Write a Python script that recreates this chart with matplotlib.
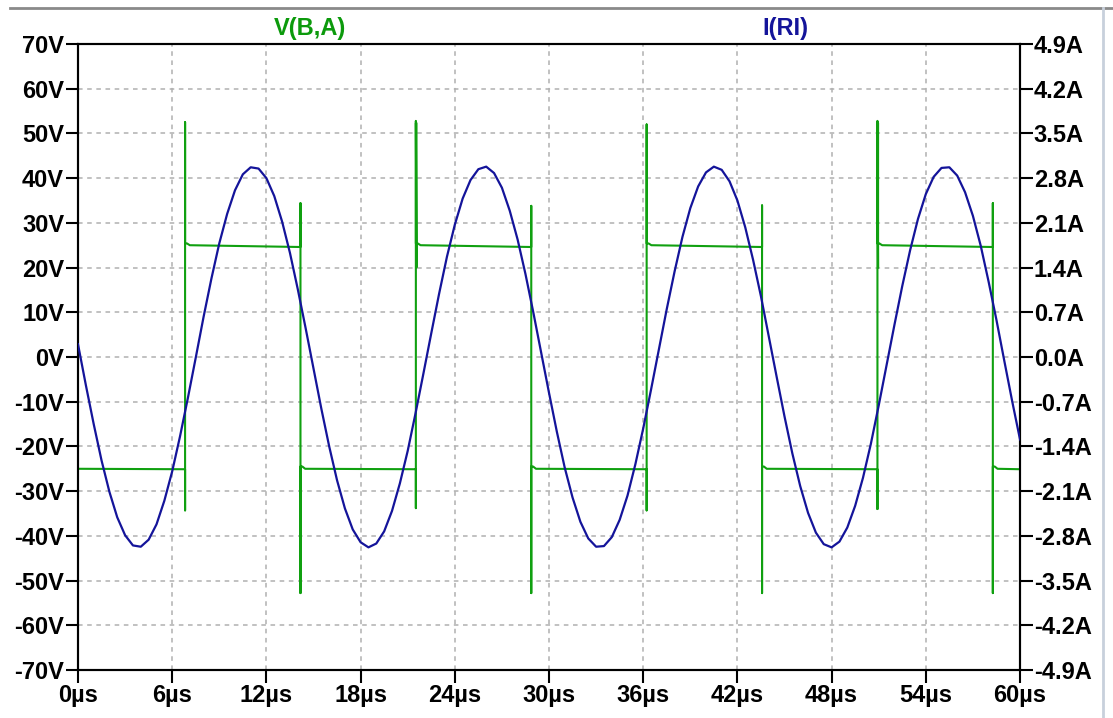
import matplotlib
matplotlib.use("Agg")
import matplotlib.pyplot as plt
from matplotlib.lines import Line2D
import numpy as np

cur_t = np.arange(0, 60.01, 0.5)
cur_a = [0.20, -0.44, -1.05, -1.62, -2.11, -2.51, -2.79, -2.95, -2.97, -2.86, -2.62, -2.25,
         -1.79, -1.24, -0.64, -0.01, 0.63, 1.23, 1.78, 2.24, 2.61, 2.86, 2.97, 2.95,
         2.80, 2.52, 2.12, 1.63, 1.06, 0.45, -0.18, -0.81, -1.40, -1.93, -2.37, -2.70,
         -2.90, -2.98, -2.92, -2.73, -2.41, -1.98, -1.47, -0.88, -0.26, 0.37, 0.99, 1.57,
         2.07, 2.48, 2.77, 2.94, 2.98, 2.88, 2.65, 2.29, 1.84, 1.30, 0.70, 0.07,
         -0.56, -1.17, -1.73, -2.20, -2.58, -2.84, -2.97, -2.96, -2.82, -2.55, -2.17, -1.68,
         -1.12, -0.51, 0.12, 0.75, 1.34, 1.88, 2.33, 2.67, 2.89, 2.98, 2.93, 2.75,
         2.45, 2.03, 1.52, 0.95, 0.32, -0.31, -0.93, -1.51, -2.02, -2.44, -2.75, -2.93,
         -2.98, -2.89, -2.67, -2.33, -1.89, -1.36, -0.76, -0.13, 0.50, 1.11, 1.67, 2.16,
         2.55, 2.82, 2.96, 2.97, 2.84, 2.58, 2.21, 1.74, 1.18, 0.58, -0.06, -0.69, -1.29]

# V(B,A) square wave: switching instants (us) and spike extremes (V)
edge_t = [6.82, 14.17, 21.52, 28.87, 36.22, 43.57, 50.92, 58.27]
edge_up = [True, False, True, False, True, False, True, False]
spike_hi = [52.5, 34.4, 52.8, 33.8, 52.0, 33.9, 52.8, 34.4]
spike_lo = [-34.3, -52.8, -33.8, -52.8, -34.3, -52.8, -34.0, -52.8]
ring_lo = [None, None, 20.0, None, None, None, 20.0, None]
hi_level = [25.4, 24.6]   # start / end of the +25 V plateau
lo_level = [-24.5, -25.1]  # start / end of the -25 V plateau

v_ticks = list(range(-70, 71, 10))
a_ticks = [-4.9, -4.2, -3.5, -2.8, -2.1, -1.4, -0.7, 0.0, 0.7, 1.4, 2.1, 2.8, 3.5, 4.2, 4.9]
t_ticks = list(range(0, 61, 6))

green = '#10a010'
blue = '#14149a'
font = dict(family=['Liberation Sans', 'DejaVu Sans'], weight='bold', size=17)

# build the step path of V(B,A)
gx, gy = [0.0], [-25.0]
for i, te in enumerate(edge_t):
    gx.append(te)
    gy.append(lo_level[1] if edge_up[i] else hi_level[1])
    gx += [te, te]
    gy += [spike_lo[i], spike_hi[i]] if edge_up[i] else [spike_hi[i], spike_lo[i]]
    if ring_lo[i] is not None:
        gx += [te + 0.04, te + 0.04, te]
        gy += [ring_lo[i], spike_hi[i] - 0.5, spike_hi[i] - 0.5]
    start = hi_level[0] if edge_up[i] else lo_level[0]
    settle = 25.0 if edge_up[i] else -25.0
    gx += [te, te + 0.12, te + 0.3]
    gy += [start, start, settle]
gx.append(60.0)
gy.append(hi_level[1] if edge_up[-1] else lo_level[1])

fig = plt.figure(figsize=(11.13, 7.18), dpi=100)
ax = fig.add_axes([78 / 1113, 1 - 670 / 718, 942 / 1113, 626 / 718])
ax2 = ax.twinx()

ax.set_xlim(0, 60)
ax.set_ylim(-70, 70)
ax2.set_ylim(-4.9, 4.9)

ax.grid(True, color='#b0b0b0', linestyle=(0, (3, 3)), linewidth=1.1)
ax.set_axisbelow(True)

ax.plot(gx, gy, color=green, linewidth=1.5, zorder=3)
ax2.plot(cur_t, cur_a, color=blue, linewidth=1.6, zorder=4)

ax.set_xticks(t_ticks)
ax.set_xticklabels([f'{v}µs' for v in t_ticks], fontdict=font)
ax.set_yticks(v_ticks)
ax.set_yticklabels([f'{v}V' for v in v_ticks], fontdict=font)
ax2.set_yticks(a_ticks)
ax2.set_yticklabels([f'{v:.1f}A' for v in a_ticks], fontdict=font)

for a in (ax, ax2):
    a.tick_params(direction='out', length=9, width=1.5, color='black', pad=1)
    for s in a.spines.values():
        s.set_linewidth(1.5)
        s.set_color('black')

fig.text(310 / 1113, 1 - 28 / 718, 'V(B,A)', color='#0c9a0c', ha='center', va='center', **font)
fig.text(785 / 1113, 1 - 28 / 718, 'I(RI)', color=blue, ha='center', va='center', **font)

# window border lines
fig.add_artist(Line2D([10 / 1113, 1], [1 - 8 / 718] * 2, color='#8a8a8a', linewidth=2))
fig.add_artist(Line2D([1103 / 1113] * 2, [0, 1 - 8 / 718], color='#c8d0dc', linewidth=2))

fig.savefig('out.png', dpi=100)
